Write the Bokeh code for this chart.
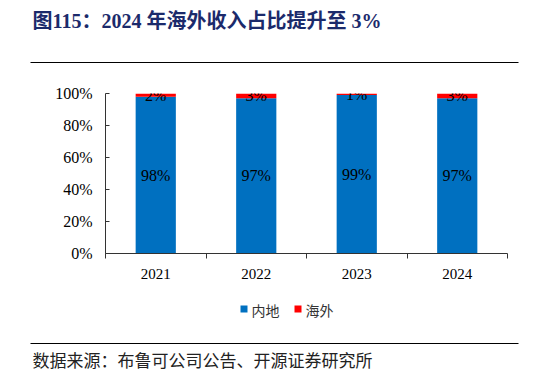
from bokeh.plotting import figure
from bokeh.models import Range1d, FixedTicker, PrintfTickFormatter, ColumnDataSource
from bokeh.core.properties import value
from bokeh.embed import file_html
from bokeh.resources import INLINE

# ---- data ----
years = ["2021", "2022", "2023", "2024"]
mainland = [98, 97, 99, 97]
overseas = [2, 3, 1, 3]
series_names = ["内地", "海外"]
colors = ["#0070C0", "#FF0000"]
y_ticks = [0, 20, 40, 60, 80, 100]
title_text = "图115：2024 年海外收入占比提升至 3%"
source_text = "数据来源：布鲁可公司公告、开源证券研究所"

W, H = 540, 372
FL, FR, FT, FB = 105, 507, 93, 253   # frame edges in canvas px
SERIF = "Liberation Serif, Noto Sans CJK SC"
CJK = "Noto Sans CJK SC"

xs = [i + 0.5 for i in range(len(years))]
src = ColumnDataSource(dict(x=xs, mainland=mainland, overseas=overseas,
                            lab_m=[f"{v}%" for v in mainland], lab_o=[f"{v}%" for v in overseas],
                            y_m=[v / 2 for v in mainland],
                            y_o=[m + o / 2 for m, o in zip(mainland, overseas)]))

p = figure(width=W, height=H, x_range=Range1d(0, len(years)), y_range=Range1d(0, 100),
           output_backend="svg", toolbar_location=None,
           min_border_left=FL, min_border_right=W - FR, min_border_top=FT, min_border_bottom=H - FB)
p.outline_line_color = None
p.grid.visible = False
# pixel ranges for page decorations (title, rules, legend, source)
p.extra_x_ranges = {"px": Range1d(FL, FR)}
p.extra_y_ranges = {"px": Range1d(FB, FT)}

rs = p.vbar_stack(["mainland", "overseas"], x="x", width=0.4, color=colors, line_color=None, source=src)
p.text(x="x", y="y_m", text="lab_m", source=src, text_font=value(SERIF), text_font_size="16px",
       text_align="center", text_baseline="middle", text_color="#000000")
p.text(x="x", y="y_o", text="lab_o", source=src, text_font=value(SERIF), text_font_size="16px",
       text_align="center", text_baseline="middle", text_color="#000000")

xa = p.xaxis[0]
xa.ticker = FixedTicker(ticks=xs, minor_ticks=list(range(len(years) + 1)))
xa.major_label_overrides = {x: y for x, y in zip(xs, years)}
xa.major_tick_line_color = None
xa.minor_tick_line_color = "#333333"
xa.minor_tick_in = 0
xa.minor_tick_out = 5
xa.major_label_standoff = 9
xa.axis_line_color = "#333333"
xa.major_label_text_font = SERIF
xa.major_label_text_font_size = "15px"
xa.major_label_text_color = "#000000"

ya = p.yaxis[0]
ya.ticker = FixedTicker(ticks=y_ticks)
ya.formatter = PrintfTickFormatter(format="%d%%")
ya.major_tick_in = 4
ya.major_tick_out = 0
ya.minor_tick_line_color = None
ya.major_label_standoff = 13
ya.axis_line_color = "#333333"
ya.major_tick_line_color = "#333333"
ya.major_label_text_font = SERIF
ya.major_label_text_font_size = "16px"
ya.major_label_text_color = "#000000"

# page decorations drawn on top, in canvas pixels
deco = dict(x_range_name="px", y_range_name="px", level="overlay")
p.text(x=[32], y=[20], text=[title_text], text_font=value(SERIF), text_font_style="bold",
       text_font_size="20px", text_color="#1b2a6b", text_baseline="middle", text_align="left", **deco)
p.segment(x0=[30, 30], y0=[62, 343], x1=[518, 518], y1=[62, 343], line_color="#000000",
          line_width=1, **deco)
# legend
p.rect(x=[243.5, 297.5], y=[308.5, 308.5], width=7, height=7, fill_color=colors, line_color=None, **deco)
p.text(x=[251, 305], y=[309, 309], text=series_names, text_font=value(CJK), text_font_size="14px",
       text_color="#333333", text_baseline="middle", text_align="left", **deco)
p.text(x=[32], y=[359], text=[source_text], text_font=value(CJK), text_font_size="17px",
       text_color="#222222", text_baseline="middle", text_align="left", **deco)

open("out.html", "w").write(file_html(p, INLINE))
